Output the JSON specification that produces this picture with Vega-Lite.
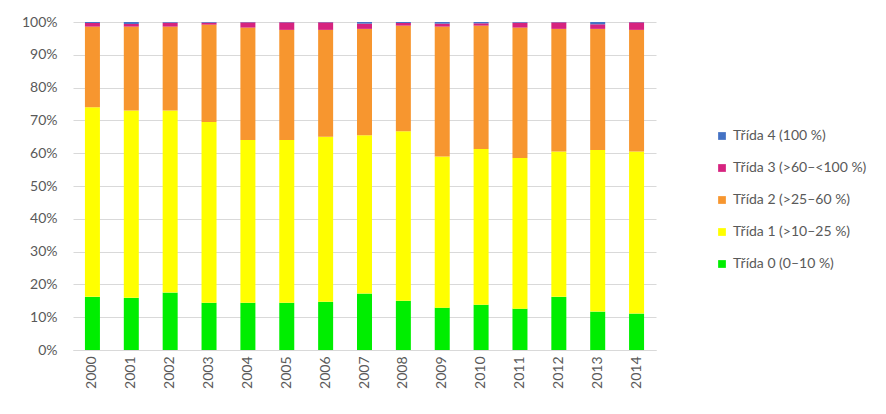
{
  "$schema": "https://vega.github.io/schema/vega-lite/v6.json",
  "width": 583,
  "height": 328,
  "autosize": {"type": "none"},
  "padding": {"left": 73, "top": 22, "right": 230, "bottom": 64},
  "background": "white",
  "config": {
    "view": {"stroke": null},
    "font": "Lato"
  },
  "data": {
    "values": [
      {"year": "2000", "k": 0, "v": 16.2}, {"year": "2000", "k": 1, "v": 57.8}, {"year": "2000", "k": 2, "v": 24.6}, {"year": "2000", "k": 3, "v": 1.1}, {"year": "2000", "k": 4, "v": 0.3},
      {"year": "2001", "k": 0, "v": 15.9}, {"year": "2001", "k": 1, "v": 57.1}, {"year": "2001", "k": 2, "v": 25.6}, {"year": "2001", "k": 3, "v": 0.8}, {"year": "2001", "k": 4, "v": 0.6},
      {"year": "2002", "k": 0, "v": 17.5}, {"year": "2002", "k": 1, "v": 55.5}, {"year": "2002", "k": 2, "v": 25.6}, {"year": "2002", "k": 3, "v": 1.2}, {"year": "2002", "k": 4, "v": 0.2},
      {"year": "2003", "k": 0, "v": 14.4}, {"year": "2003", "k": 1, "v": 55.1}, {"year": "2003", "k": 2, "v": 29.7}, {"year": "2003", "k": 3, "v": 0.6}, {"year": "2003", "k": 4, "v": 0.2},
      {"year": "2004", "k": 0, "v": 14.4}, {"year": "2004", "k": 1, "v": 49.6}, {"year": "2004", "k": 2, "v": 34.3}, {"year": "2004", "k": 3, "v": 1.6}, {"year": "2004", "k": 4, "v": 0.1},
      {"year": "2005", "k": 0, "v": 14.4}, {"year": "2005", "k": 1, "v": 49.6}, {"year": "2005", "k": 2, "v": 33.6}, {"year": "2005", "k": 3, "v": 2.3}, {"year": "2005", "k": 4, "v": 0.1},
      {"year": "2006", "k": 0, "v": 14.7}, {"year": "2006", "k": 1, "v": 50.3}, {"year": "2006", "k": 2, "v": 32.6}, {"year": "2006", "k": 3, "v": 2.3}, {"year": "2006", "k": 4, "v": 0.1},
      {"year": "2007", "k": 0, "v": 17.2}, {"year": "2007", "k": 1, "v": 48.3}, {"year": "2007", "k": 2, "v": 32.4}, {"year": "2007", "k": 3, "v": 1.6}, {"year": "2007", "k": 4, "v": 0.5},
      {"year": "2008", "k": 0, "v": 15.0}, {"year": "2008", "k": 1, "v": 51.7}, {"year": "2008", "k": 2, "v": 32.2}, {"year": "2008", "k": 3, "v": 0.8}, {"year": "2008", "k": 4, "v": 0.3},
      {"year": "2009", "k": 0, "v": 12.9}, {"year": "2009", "k": 1, "v": 46.1}, {"year": "2009", "k": 2, "v": 39.6}, {"year": "2009", "k": 3, "v": 0.9}, {"year": "2009", "k": 4, "v": 0.5},
      {"year": "2010", "k": 0, "v": 13.8}, {"year": "2010", "k": 1, "v": 47.5}, {"year": "2010", "k": 2, "v": 37.6}, {"year": "2010", "k": 3, "v": 0.7}, {"year": "2010", "k": 4, "v": 0.4},
      {"year": "2011", "k": 0, "v": 12.6}, {"year": "2011", "k": 1, "v": 45.9}, {"year": "2011", "k": 2, "v": 39.8}, {"year": "2011", "k": 3, "v": 1.5}, {"year": "2011", "k": 4, "v": 0.2},
      {"year": "2012", "k": 0, "v": 16.2}, {"year": "2012", "k": 1, "v": 44.3}, {"year": "2012", "k": 2, "v": 37.4}, {"year": "2012", "k": 3, "v": 2.0}, {"year": "2012", "k": 4, "v": 0.1},
      {"year": "2013", "k": 0, "v": 11.7}, {"year": "2013", "k": 1, "v": 49.3}, {"year": "2013", "k": 2, "v": 36.9}, {"year": "2013", "k": 3, "v": 1.4}, {"year": "2013", "k": 4, "v": 0.7},
      {"year": "2014", "k": 0, "v": 11.1}, {"year": "2014", "k": 1, "v": 49.4}, {"year": "2014", "k": 2, "v": 37.1}, {"year": "2014", "k": 3, "v": 2.3}, {"year": "2014", "k": 4, "v": 0.1}
    ]
  },
  "transform": [
    {"lookup": "k", "from": {"data": {"values": [
      {"k": 0, "cls": "Třída 0 (0–10 %)"},
      {"k": 1, "cls": "Třída 1 (>10–25 %)"},
      {"k": 2, "cls": "Třída 2 (>25–60 %)"},
      {"k": 3, "cls": "Třída 3 (>60–<100 %)"},
      {"k": 4, "cls": "Třída 4 (100 %)"}
    ]}, "key": "k", "fields": ["cls"]}}
  ],
  "mark": {"type": "bar", "size": 15},
  "encoding": {
    "x": {
      "field": "year", "type": "ordinal", "title": null,
      "scale": {"paddingInner": 0.6, "paddingOuter": 0.3},
      "axis": {
        "labelAngle": -90, "labelAlign": "right", "labelBaseline": "middle",
        "labelFontSize": 14, "labelColor": "#595959", "labelPadding": 6,
        "ticks": false, "domainColor": "#d9d9d9", "domainWidth": 1, "grid": false
      }
    },
    "y": {
      "field": "v", "type": "quantitative", "stack": "normalize", "title": null,
      "scale": {"domain": [0, 1]},
      "axis": {
        "format": ".0%", "values": [0, 0.1, 0.2, 0.3, 0.4, 0.5, 0.6, 0.7, 0.8, 0.9, 1.0],
        "labelFontSize": 14, "labelColor": "#595959", "labelPadding": 16,
        "ticks": false, "domain": false, "grid": true, "gridColor": "#d9d9d9", "gridWidth": 1
      }
    },
    "color": {
      "field": "cls", "type": "nominal",
      "scale": {
        "domain": ["Třída 4 (100 %)", "Třída 3 (>60–<100 %)", "Třída 2 (>25–60 %)", "Třída 1 (>10–25 %)", "Třída 0 (0–10 %)"],
        "range": ["#4472c4", "#d6237f", "#f7962f", "#ffff00", "#00ee00"]
      },
      "legend": {
        "title": null, "orient": "none", "legendX": 642, "legendY": 107,
        "symbolType": "square", "symbolSize": 60, "symbolStrokeWidth": 0,
        "labelFontSize": 14, "labelColor": "#595959", "rowPadding": 18, "labelOffset": 4
      }
    },
    "order": {"field": "k", "type": "quantitative", "sort": "ascending"}
  }
}
